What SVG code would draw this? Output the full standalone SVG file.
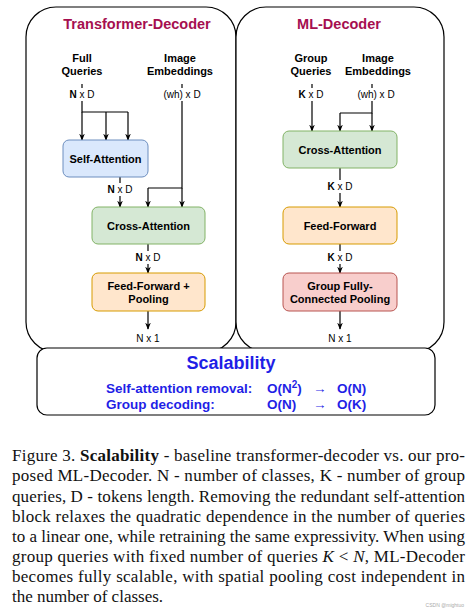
<svg xmlns="http://www.w3.org/2000/svg" width="474" height="612" viewBox="0 0 474 612">
<style>
.panel{fill:#fff;stroke:#000;stroke-width:1.2}
.ttl{font-family:"Liberation Sans",Arial,sans-serif;font-weight:bold;font-size:14.5px;fill:#a50f50;text-anchor:middle}
.lbl{font-family:"Liberation Sans",Arial,sans-serif;font-weight:bold;font-size:11px;fill:#000;text-anchor:middle}
.dim{font-family:"Liberation Sans",Arial,sans-serif;font-size:10px;fill:#000;text-anchor:middle}
.box{stroke-width:1}
.blue{fill:#dae8fc;stroke:#6c8ebf}
.green{fill:#d5e8d4;stroke:#82b366}
.orange{fill:#ffe6cc;stroke:#d79b00}
.red{fill:#f8cecc;stroke:#b85450}
.edge{fill:none;stroke:#000;stroke-width:1.2}
.sc{font-family:"Liberation Sans",Arial,sans-serif;font-weight:bold;fill:#1f1fe6}
.cap{font-size:17px;fill:#111}
</style>
<defs>
<marker id="ar" viewBox="0 0 10 10" refX="9" refY="5" markerWidth="7" markerHeight="7" orient="auto" markerUnits="userSpaceOnUse">
<path d="M0,1 L10,5 L0,9 L3,5 Z" fill="#000"/>
</marker>
</defs>
<rect width="474" height="612" fill="#fff"/>

<g id="panel-left">
<rect class="panel" x="26" y="7" width="210" height="345" rx="30"/>
<text class="ttl" x="137" y="29">Transformer-Decoder</text>
</g>
<g id="panel-right">
<rect class="panel" x="236" y="7" width="208" height="345" rx="30"/>
<text class="ttl" x="339" y="29">ML-Decoder</text>
</g>

<g id="labels-left">
<text class="lbl" x="82" y="62">Full</text>
<text class="lbl" x="82" y="75">Queries</text>
<text class="lbl" x="180" y="62">Image</text>
<text class="lbl" x="180" y="75">Embeddings</text>
<text class="dim" x="82" y="98"><tspan font-weight="bold">N</tspan> x D</text>
<text class="dim" x="182" y="98">(wh) x D</text>
<text class="dim" x="120" y="193"><tspan font-weight="bold">N</tspan> x D</text>
<text class="dim" x="148" y="261"><tspan font-weight="bold">N</tspan> x D</text>
<text class="dim" x="148" y="342">N x 1</text>
</g>
<g id="labels-right">
<text class="lbl" x="311" y="62">Group</text>
<text class="lbl" x="311" y="75">Queries</text>
<text class="lbl" x="378" y="62">Image</text>
<text class="lbl" x="378" y="75">Embeddings</text>
<text class="dim" x="311" y="98"><tspan font-weight="bold">K</tspan> x D</text>
<text class="dim" x="376" y="98">(wh) x D</text>
<text class="dim" x="340" y="190"><tspan font-weight="bold">K</tspan> x D</text>
<text class="dim" x="340" y="261"><tspan font-weight="bold">K</tspan> x D</text>
<text class="dim" x="340" y="342">N x 1</text>
</g>

<g id="connectors">
<line class="edge" x1="82" y1="84" x2="82" y2="88"/>
<path class="edge" d="M82,101 V112 H128"/>
<line class="edge" x1="82" y1="112" x2="82" y2="140" marker-end="url(#ar)"/>
<line class="edge" x1="106" y1="112" x2="106" y2="140" marker-end="url(#ar)"/>
<line class="edge" x1="128" y1="112" x2="128" y2="140" marker-end="url(#ar)"/>
<line class="edge" x1="182" y1="84" x2="182" y2="88"/>
<path class="edge" d="M182,101 V188 H148"/>
<line class="edge" x1="182" y1="188" x2="182" y2="207" marker-end="url(#ar)"/>
<line class="edge" x1="148" y1="188" x2="148" y2="207" marker-end="url(#ar)"/>
<line class="edge" x1="120" y1="177" x2="120" y2="183"/>
<line class="edge" x1="120" y1="196" x2="120" y2="207" marker-end="url(#ar)"/>
<line class="edge" x1="148" y1="244" x2="148" y2="251"/>
<line class="edge" x1="148" y1="264" x2="148" y2="273" marker-end="url(#ar)"/>
<line class="edge" x1="148" y1="311" x2="148" y2="329" marker-end="url(#ar)"/>

<line class="edge" x1="312" y1="84" x2="312" y2="88"/>
<line class="edge" x1="312" y1="101" x2="312" y2="131" marker-end="url(#ar)"/>
<line class="edge" x1="372" y1="84" x2="372" y2="88"/>
<path class="edge" d="M372,101 V113 H340"/>
<line class="edge" x1="372" y1="113" x2="372" y2="131" marker-end="url(#ar)"/>
<line class="edge" x1="340" y1="113" x2="340" y2="131" marker-end="url(#ar)"/>
<line class="edge" x1="340" y1="168" x2="340" y2="180"/>
<line class="edge" x1="340" y1="193" x2="340" y2="207" marker-end="url(#ar)"/>
<line class="edge" x1="340" y1="244" x2="340" y2="251"/>
<line class="edge" x1="340" y1="264" x2="340" y2="273" marker-end="url(#ar)"/>
<line class="edge" x1="340" y1="311" x2="340" y2="329" marker-end="url(#ar)"/>
</g>

<g id="self-attention">
<rect class="box blue" x="63" y="140" width="85" height="37" rx="6"/>
<text class="lbl" x="105.5" y="163">Self-Attention</text>
</g>
<g id="cross-attention-left">
<rect class="box green" x="92" y="207" width="113" height="37" rx="6"/>
<text class="lbl" x="148.5" y="230">Cross-Attention</text>
</g>
<g id="ffn-pooling">
<rect class="box orange" x="92" y="273" width="113" height="38" rx="6"/>
<text class="lbl" x="148.5" y="290">Feed-Forward +</text>
<text class="lbl" x="148.5" y="303">Pooling</text>
</g>
<g id="cross-attention-right">
<rect class="box green" x="283" y="131" width="114" height="37" rx="6"/>
<text class="lbl" x="340" y="154">Cross-Attention</text>
</g>
<g id="ffn-right">
<rect class="box orange" x="283" y="207" width="114" height="37" rx="6"/>
<text class="lbl" x="340" y="230">Feed-Forward</text>
</g>
<g id="group-fc-pooling">
<rect class="box red" x="283" y="273" width="114" height="38" rx="6"/>
<text class="lbl" x="340" y="290">Group Fully-</text>
<text class="lbl" x="340" y="303">Connected Pooling</text>
</g>

<g id="scalability">
<rect x="37" y="348" width="398" height="67" rx="10" fill="#fff" stroke="#000" stroke-width="1.2"/>
<text class="sc" x="231" y="369" font-size="18" text-anchor="middle">Scalability</text>
<text class="sc" x="106" y="393" font-size="13.5">Self-attention removal:</text>
<text class="sc" x="267" y="393" font-size="13.5">O(N<tspan font-size="10" dy="-5">2</tspan><tspan dy="5">)</tspan></text>
<text class="sc" x="313" y="393" font-size="13.5">→</text>
<text class="sc" x="337" y="393" font-size="13.5">O(N)</text>
<text class="sc" x="106" y="409" font-size="13.5">Group decoding:</text>
<text class="sc" x="267" y="409" font-size="13.5">O(N)</text>
<text class="sc" x="313" y="409" font-size="13.5">→</text>
<text class="sc" x="337" y="409" font-size="13.5">O(K)</text>
</g>

<g id="caption" font-family="Liberation Serif, Times New Roman, serif">
<text class="cap" x="12" y="461" textLength="453" lengthAdjust="spacing">Figure 3. <tspan font-weight="bold">Scalability</tspan> - baseline transformer-decoder vs. our pro-</text>
<text class="cap" x="12" y="481" textLength="453" lengthAdjust="spacing">posed ML-Decoder. N - number of classes, K - number of group</text>
<text class="cap" x="12" y="501.5" textLength="453" lengthAdjust="spacing">queries, D - tokens length. Removing the redundant self-attention</text>
<text class="cap" x="12" y="521.5" textLength="453" lengthAdjust="spacing">block relaxes the quadratic dependence in the number of queries</text>
<text class="cap" x="12" y="541.5" textLength="453" lengthAdjust="spacing">to a linear one, while retraining the same expressivity. When using</text>
<text class="cap" x="12" y="562" textLength="453" lengthAdjust="spacing">group queries with fixed number of queries <tspan font-style="italic">K</tspan> &lt; <tspan font-style="italic">N</tspan>, ML-Decoder</text>
<text class="cap" x="12" y="582" textLength="453" lengthAdjust="spacing">becomes fully scalable, with spatial pooling cost independent in</text>
<text class="cap" x="12" y="602">the number of classes.</text>
<text x="464" y="607" font-family="Liberation Sans, Arial, sans-serif" font-size="5" fill="#aaa" text-anchor="end">CSDN @mightuo</text>
</g>
</svg>
